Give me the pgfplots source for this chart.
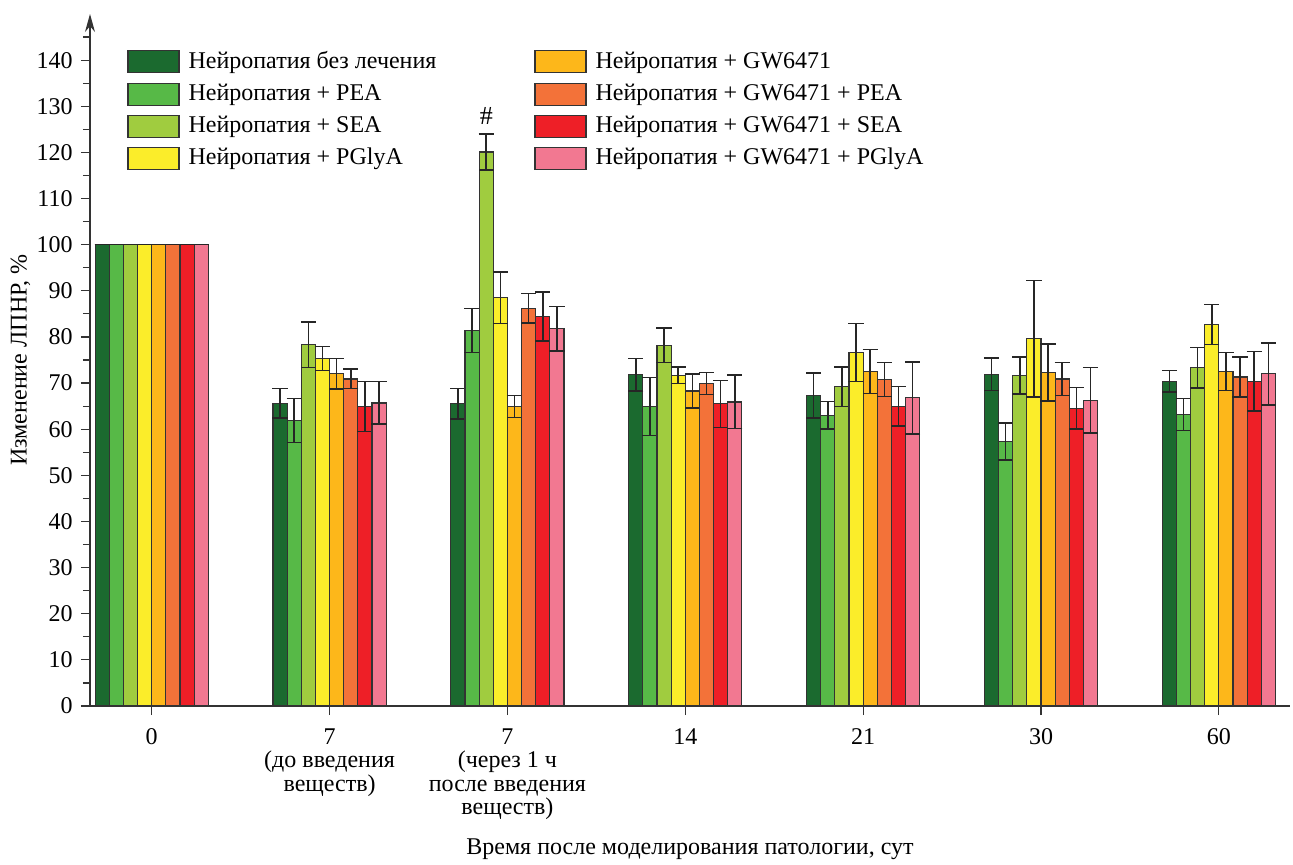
\documentclass[border=0pt]{standalone}
\usepackage{pgfplots}
\pgfplotsset{compat=1.18}
\usepackage{pgfplotstable}
\usepackage{fontspec}
\setmainfont{Liberation Serif}
\usetikzlibrary{arrows.meta}

\definecolor{c1}{HTML}{1B6A2F}
\definecolor{c2}{HTML}{57B947}
\definecolor{c3}{HTML}{A0CC3F}
\definecolor{c4}{HTML}{FBED2A}
\definecolor{c5}{HTML}{FDB71A}
\definecolor{c6}{HTML}{F37239}
\definecolor{c7}{HTML}{EE1F27}
\definecolor{c8}{HTML}{F27891}
\definecolor{ln}{HTML}{333333}

\pgfplotstableread{
x y e
0 100 0
1 65.6 3.2
2 65.5 3.3
3 71.8 3.5
4 67.3 4.9
5 71.9 3.5
6 70.4 2.3
}\tA
\pgfplotstableread{
x y e
0 100 0
1 61.9 4.8
2 81.4 4.8
3 64.9 6.3
4 63.0 3.0
5 57.3 4.0
6 63.2 3.5
}\tB
\pgfplotstableread{
x y e
0 100 0
1 78.3 4.9
2 120.1 3.9
3 78.2 3.7
4 69.2 4.3
5 71.6 4.0
6 73.3 4.4
}\tC
\pgfplotstableread{
x y e
0 100 0
1 75.3 2.6
2 88.5 5.6
3 71.7 1.8
4 76.6 6.3
5 79.6 12.6
6 82.7 4.3
}\tD
\pgfplotstableread{
x y e
0 100 0
1 72.0 3.3
2 64.9 2.4
3 68.3 3.7
4 72.5 4.8
5 72.3 6.2
6 72.5 4.1
}\tE
\pgfplotstableread{
x y e
0 100 0
1 70.9 2.1
2 86.2 3.2
3 69.9 2.4
4 70.8 3.7
5 70.9 3.6
6 71.3 4.3
}\tF
\pgfplotstableread{
x y e
0 100 0
1 64.9 5.4
2 84.4 5.3
3 65.5 5.1
4 65.0 4.3
5 64.5 4.5
6 70.4 6.4
}\tG
\pgfplotstableread{
x y e
0 100 0
1 65.7 4.6
2 81.8 4.8
3 65.9 5.8
4 66.8 7.8
5 66.3 7.1
6 72.0 6.7
}\tH

\pgfplotsset{
  mybar/.style={draw=ln, line width=0.6pt, fill=#1,
    legend image code/.code={\draw[draw=ln, line width=0.6pt, fill=#1] (0pt,-5.5pt) rectangle (25.5pt,5.5pt);},
    /pgfplots/error bars/y dir=both,
    /pgfplots/error bars/y explicit,
    /pgfplots/error bars/error bar style={line width=0.75pt, draw=black!85},
    /pgfplots/error bars/error mark options={rotate=90, mark size=3.8pt, line width=0.75pt, draw=black!85}},
}

\begin{document}
\fontsize{12}{12}\selectfont
\begin{tikzpicture}
\path[use as bounding box] (-45pt,-79pt) rectangle (601.5pt,353pt);
\begin{axis}[
  scale only axis, width=600pt, height=346pt,
  at={(0,0)}, anchor=south west,
  xmin=-0.347, xmax=6.40, ymin=0, ymax=150,
  axis x line=bottom, axis y line=left,
  x axis line style={-, line width=0.6pt, draw=ln},
  y axis line style={-{Stealth[length=9pt,width=5pt]}, line width=0.6pt, draw=ln},
  ybar=0pt, bar width=0.0795,
  xtick={0,1,2,3,4,5,6},
  xticklabels={0, {7\\(до введения\\веществ)}, {7\\(через 1 ч\\после введения\\веществ)}, 14, 21, 30, 60},
  xticklabel style={align=center, font=\fontsize{12}{11.8}\selectfont, yshift=-2.5pt},
  ytick={0,10,...,140},
  minor ytick={5,15,...,145},
  tick align=outside,
  major tick length=4.5pt, minor tick length=3.5pt,
  tick style={line width=0.6pt, draw=ln},
  /pgf/number format/assume math mode=true,
  yticklabel style={font=\fontsize{12}{12}\selectfont},
  xlabel={Время после моделирования патологии, сут},
  ylabel={Изменение ЛПНР, \%},
  xlabel style={font=\fontsize{12}{12}\selectfont, yshift=-1pt},
  ylabel style={font=\fontsize{12}{12}\selectfont, yshift=-5pt},
  legend style={draw=none, fill=none, at={(0.0258,0.958)}, anchor=north west,
    font=\fontsize{12}{12}\selectfont, row sep=2pt,
    /tikz/column 1/.style={column sep=2.5pt},
    /tikz/column 2/.style={column sep=47pt},
    /tikz/column 3/.style={column sep=2.5pt}},
  legend columns=4, transpose legend,
  legend cell align=left,
]
\addplot[mybar=c1, bar shift=-0.27825] table[x=x,y=y,y error=e] {\tA};
\addplot[mybar=c2, bar shift=-0.19875] table[x=x,y=y,y error=e] {\tB};
\addplot[mybar=c3, bar shift=-0.11925] table[x=x,y=y,y error=e] {\tC};
\addplot[mybar=c4, bar shift=-0.03975] table[x=x,y=y,y error=e] {\tD};
\addplot[mybar=c5, bar shift=0.03975] table[x=x,y=y,y error=e] {\tE};
\addplot[mybar=c6, bar shift=0.11925] table[x=x,y=y,y error=e] {\tF};
\addplot[mybar=c7, bar shift=0.19875] table[x=x,y=y,y error=e] {\tG};
\addplot[mybar=c8, bar shift=0.27825] table[x=x,y=y,y error=e] {\tH};
\legend{Нейропатия без лечения, Нейропатия + PEA, Нейропатия + SEA, Нейропатия + PGlyA, Нейропатия + GW6471, Нейропатия + GW6471 + PEA, Нейропатия + GW6471 + SEA, Нейропатия + GW6471 + PGlyA}
\node[font=\fontsize{13}{13}\selectfont] at (axis cs:1.881,128) {\#};
\end{axis}
\end{tikzpicture}
\end{document}
